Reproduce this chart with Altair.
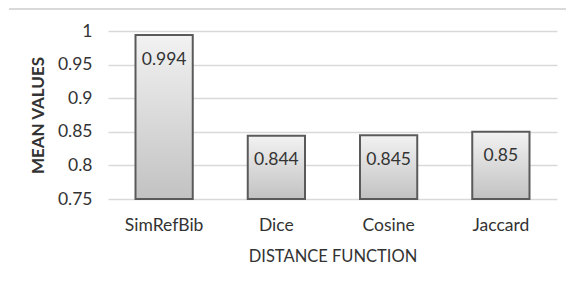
import altair as alt
import pandas as pd

categories = ["SimRefBib", "Dice", "Cosine", "Jaccard"]
values = [0.994, 0.844, 0.845, 0.85]
labels = ["0.994", "0.844", "0.845", "0.85"]
y_ticks = [0.75, 0.8, 0.85, 0.9, 0.95, 1.0]

df = pd.DataFrame({"cat": categories, "val": values, "lab": labels})

FONT = "Lato"

x = alt.X("cat:N", sort=categories, title="DISTANCE FUNCTION",
          scale=alt.Scale(paddingInner=0.49, paddingOuter=0.245),
          axis=alt.Axis(labelAngle=0, ticks=False, domain=False, grid=False,
                        labelPadding=17, labelFontSize=17.5, labelFont=FONT,
                        labelColor="#333333", titleFontSize=16.5, titleFont=FONT,
                        titleFontWeight="normal", titleColor="#333333", titlePadding=15))
y = alt.Y("val:Q", title="MEAN VALUES",
          scale=alt.Scale(domain=[0.75, 1.0], nice=False, zero=False),
          axis=alt.Axis(values=y_ticks, tickCount=20, ticks=False, domain=False,
                        labelPadding=16, labelFontSize=17.5, labelFont=FONT, labelColor="#333333",
                        labelOverlap=False, labelBound=False,
                        gridColor="#d9d9d9", gridWidth=1.5,
                        labelExpr="format(datum.value, '.3~f')",
                        titleFontSize=17, titleFont=FONT, titleFontWeight="bold",
                        titleColor="#333333", titlePadding=10))

grad = alt.Gradient(gradient="linear",
                    stops=[alt.GradientStop(color="#f2f2f2", offset=0),
                           alt.GradientStop(color="#c2c2c2", offset=1)],
                    x1=0, x2=0, y1=0, y2=1)

bars = alt.Chart(df).mark_bar(color=grad, stroke="#5a5a5a", strokeWidth=2).encode(
    x=x, y=y, y2=alt.datum(0.75))

text = alt.Chart(df).mark_text(dy=24.5, fontSize=17.5, font=FONT, color="#333333").encode(
    x=alt.X("cat:N", sort=categories), y=alt.Y("val:Q"), text="lab:N")

border = alt.Chart(df).mark_rule(color="#d9d9d9", strokeWidth=2).encode(
    x=alt.value(-99), x2=alt.value(458), y=alt.value(-22))

chart = alt.layer(bars, text, border).properties(
    width=449, height=168,
    autosize=alt.AutoSizeParams(type="none"),
    padding={"left": 100, "top": 23, "right": 9, "bottom": 72},
).configure_view(stroke=None)

chart.save("out.html", embed_options={"renderer": "svg", "actions": False})
